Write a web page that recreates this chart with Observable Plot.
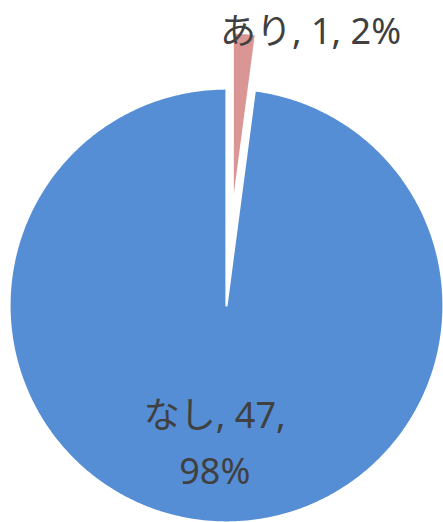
<!DOCTYPE html>
<html>
<head>
<meta charset="utf-8">
<script src="https://cdn.jsdelivr.net/npm/d3@7"></script>
<script src="https://cdn.jsdelivr.net/npm/@observablehq/plot@0.6"></script>
<style>
  html, body { margin: 0; padding: 0; background: #ffffff; }
</style>
</head>
<body>
<div id="chart"></div>
<script>
// ---- data ----
const categories = ["あり", "なし"];
const values = [1, 47];
const percents = ["2%", "98%"];
const colors = ["#D99694", "#558ED5"];

// ---- layout (pixels) ----
const W = 443, H = 522;
const R = 217;            // pie radius in px
const cx = 226, cy = 305; // pie centre in px

// per-slice styling: explosion offset & relative radius
const explode = [0.438, 0];
const radiusK = [0.82, 1];

const rows = categories.map((c, i) => ({cat: c, value: values[i], pct: percents[i], i}));
const arcs = d3.pie().sort(null).value(d => d.value)(rows);

const pts = [];
const labels = [];
arcs.forEach(a => {
  const i = a.data.i;
  const m = (a.startAngle + a.endAngle) / 2;
  const ox = explode[i] * Math.sin(m), oy = explode[i] * Math.cos(m);
  const r = radiusK[i];
  const n = Math.max(4, Math.ceil((a.endAngle - a.startAngle) * 180 / Math.PI * 2));
  pts.push({cat: a.data.cat, x: ox, y: oy});
  for (let k = 0; k <= n; k++) {
    const t = a.startAngle + (a.endAngle - a.startAngle) * k / n;
    pts.push({cat: a.data.cat, x: ox + r * Math.sin(t), y: oy + r * Math.cos(t)});
  }
  pts.push({cat: a.data.cat, x: ox, y: oy});
  if (i === 0) {
    labels.push({text: `${a.data.cat}, ${a.data.value}, ${a.data.pct}`,
                 x: ox + r * Math.sin(m) + 0.305, y: oy + r * Math.cos(m) + 0.033});
  } else {
    const lr = 0.612;
    labels.push({text: `${a.data.cat}, ${a.data.value},\n${a.data.pct}`,
                 x: lr * Math.sin(m) - 0.014, y: lr * Math.cos(m)});
  }
});

pts.sort((p, q) => (p.cat === "なし" ? 0 : 1) - (q.cat === "なし" ? 0 : 1));

const chart = Plot.plot({
  width: W,
  height: H,
  margin: 0,
  x: {domain: [-cx / R, (W - cx) / R], axis: null},
  y: {domain: [-(H - cy) / R, cy / R], axis: null},
  color: {domain: categories, range: colors},
  style: {fontFamily: "'Noto Sans', 'Noto Sans CJK JP', sans-serif", background: "#ffffff"},
  marks: [
    Plot.line(pts, {x: "x", y: "y", z: "cat", fill: "cat", stroke: "white", strokeWidth: 2.2, curve: "linear"}),
    Plot.text(labels, {x: "x", y: "y", text: "text", fontSize: 36, fill: "#404040",
                       textAnchor: "middle", lineAnchor: "middle", lineHeight: 1.55})
  ]
});
document.getElementById("chart").appendChild(chart);
</script>
</body>
</html>
